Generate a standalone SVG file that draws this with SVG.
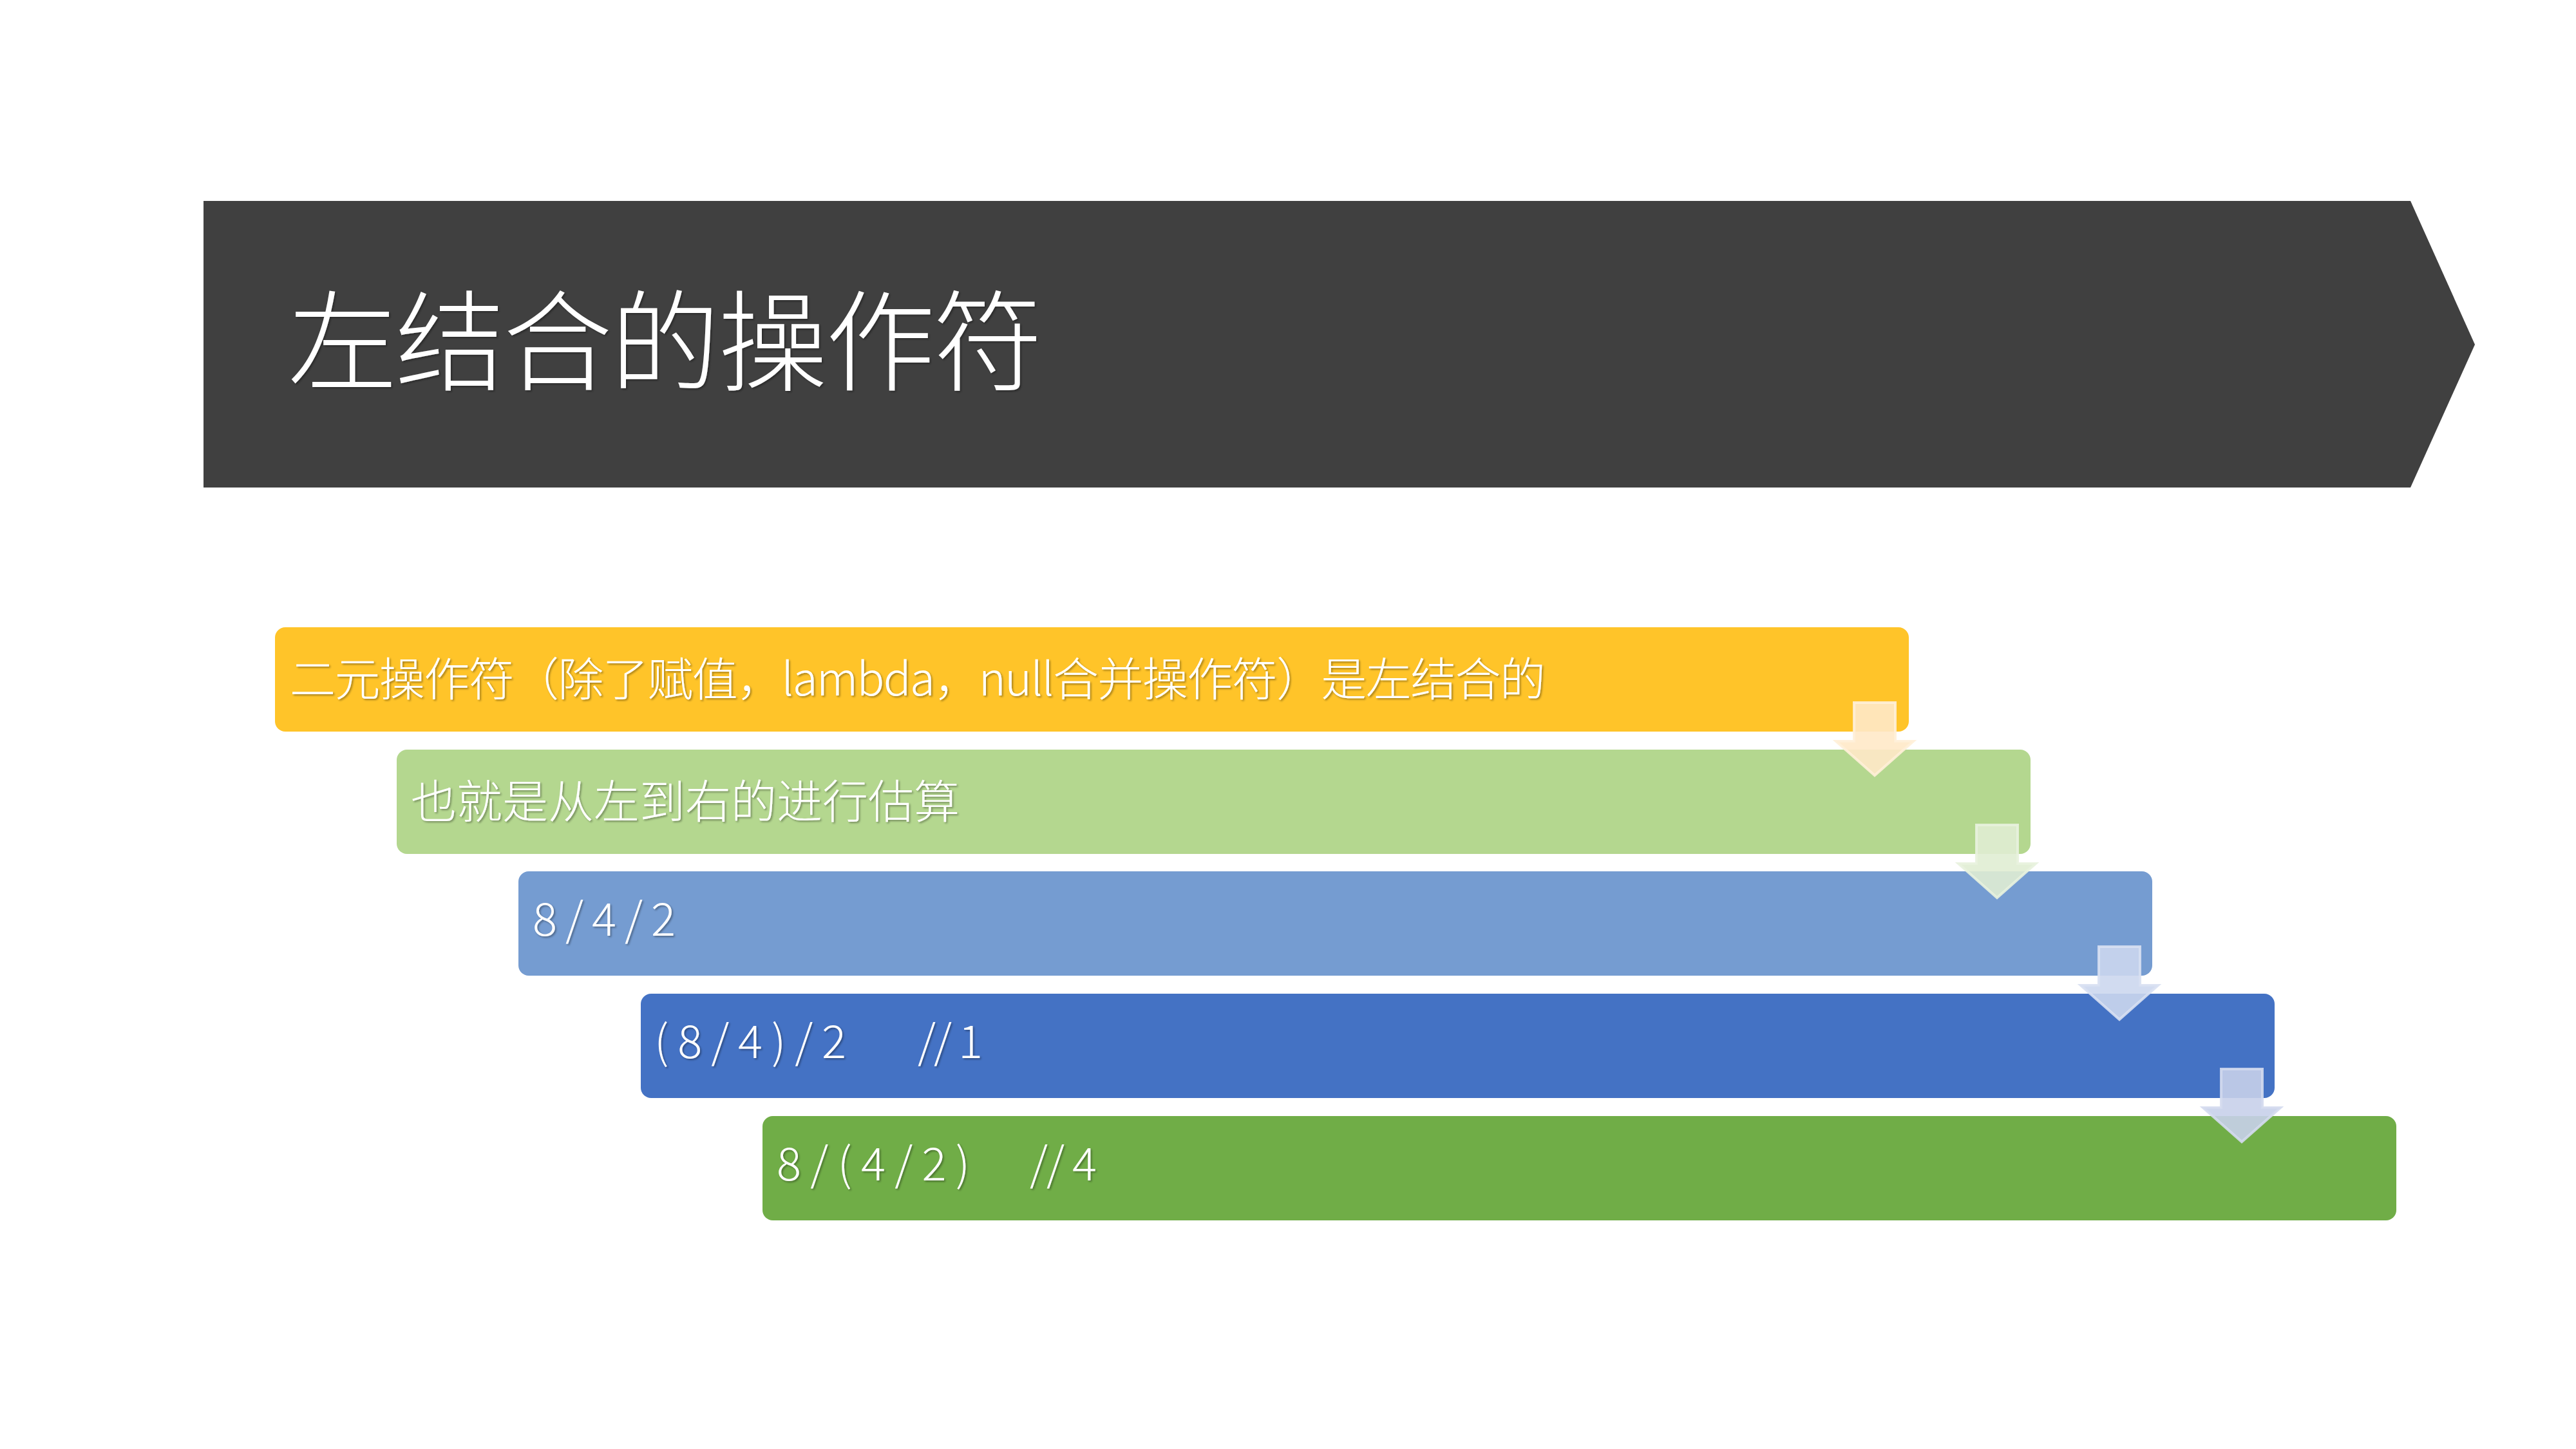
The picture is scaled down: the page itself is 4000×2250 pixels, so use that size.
<svg xmlns="http://www.w3.org/2000/svg" width="4000" height="2250" viewBox="0 0 4000 2250">
<defs>
<filter id="sh" x="-5%" y="-20%" width="110%" height="140%">
<feDropShadow dx="2" dy="2" stdDeviation="1.5" flood-color="#000" flood-opacity="0.35"/>
</filter>
</defs>
<style>
.t{font-family:"Noto Sans CJK SC","Microsoft YaHei",sans-serif;font-weight:300;fill:#fff;filter:url(#sh)}
.lbl{font-size:71px}
.bar{stroke:none}
.arr{stroke-width:4;fill-opacity:0.9;stroke-opacity:0.9}
</style>
<rect width="4000" height="2250" fill="#fff"/>
<g id="title">
<polygon points="316,312 3743,312 3843,535 3743,757 316,757" fill="#404040"/>
<text class="t" x="447" y="594" font-size="170" textLength="1172">左结合的操作符</text>
</g>
<g id="node1">
<rect class="bar" x="427" y="974" width="2537" height="162" rx="16" fill="#FFC429"/>
<text class="t lbl" x="450" y="1080" textLength="1950">二元操作符（除了赋值，lambda，null合并操作符）是左结合的</text>
</g>
<g id="node2">
<rect class="bar" x="616" y="1164" width="2537" height="162" rx="16" fill="#B4D78F"/>
<text class="t lbl" x="638" y="1270">也就是从左到右的进行估算</text>
</g>
<g id="node3">
<rect class="bar" x="805" y="1353" width="2537" height="162" rx="16" fill="#759CD1"/>
<text class="t lbl" x="827" y="1453" textLength="222">8 / 4 / 2</text>
</g>
<g id="node4">
<rect class="bar" x="995" y="1543" width="2537" height="162" rx="16" fill="#4472C4"/>
<text class="t lbl" x="1016" y="1643" textLength="298">( 8 / 4 ) / 2</text>
<text class="t lbl" x="1425" y="1643" textLength="101">// 1</text>
</g>
<g id="node5">
<rect class="bar" x="1184" y="1733" width="2537" height="162" rx="16" fill="#70AD47"/>
<text class="t lbl" x="1206" y="1833" textLength="300">8 / ( 4 / 2 )</text>
<text class="t lbl" x="1599" y="1833" textLength="104">// 4</text>
</g>
<g id="connectors">
<path class="arr" d="M2879,1091 H2943 V1151 H2971 L2911,1204 L2851,1151 H2879 Z" fill="#FFE9C8" stroke="#FFEFD8"/>
<path class="arr" d="M3069,1281 H3133 V1341 H3161 L3101,1394 L3041,1341 H3069 Z" fill="#E0EDD3" stroke="#E8F2DE"/>
<path class="arr" d="M3259,1470 H3323 V1530 H3351 L3291,1583 L3231,1530 H3259 Z" fill="#CCD7EE" stroke="#D8E0F2"/>
<path class="arr" d="M3449,1660 H3513 V1720 H3541 L3481,1773 L3421,1720 H3449 Z" fill="#C8D0EA" stroke="#D4DAEE"/>
</g>
</svg>
